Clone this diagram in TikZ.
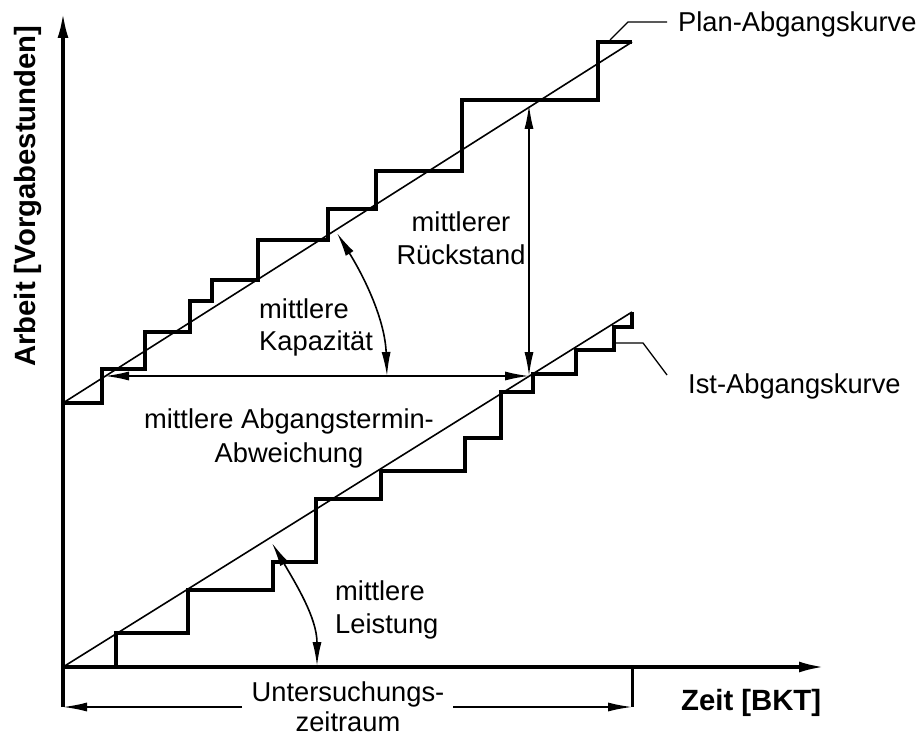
\documentclass[tikz,border=0pt]{standalone}
\usepackage{fontspec}
\setmainfont{Liberation Sans}
\usetikzlibrary{arrows.meta}
\begin{document}
\begin{tikzpicture}[x=1pt,y=-1pt,
  axis/.style={line width=3.2pt,-{Latex[length=25pt,width=11pt]}},
  stairs/.style={line width=3.6pt,line join=miter},
  trend/.style={line width=1.6pt},
  leader/.style={line width=1.3pt},
  tick/.style={line width=3pt},
  dimarrow/.style={line width=1.6pt,{Latex[length=24pt,width=9pt]}-{Latex[length=24pt,width=9pt]}},
  onearrow/.style={line width=1.6pt,-{Latex[length=24pt,width=9pt]}},
  lbl/.style={font=\fontsize{27.3}{32}\selectfont,inner sep=0pt},
  axlbl/.style={font=\bfseries\fontsize{29.3}{34}\selectfont,inner sep=0pt}]
\useasboundingbox (0,0) rectangle (920,735);

% axes
\coordinate (O) at (63,667);
\coordinate (Ybot) at (63,707);
\coordinate (Ytip) at (63,13);
\coordinate (Xtip) at (824,667);
\draw[axis] (Ybot) -- (Ytip);
\draw[axis] (O) -- (Xtip);

% planned output: trend line and staircase
\coordinate (P0) at (63,403);
\coordinate (P1) at (632,42);
\draw[trend] (P0) -- (P1);
\draw[stairs] (P0) -- (102,403) -- (102,369) -- (145,369) -- (145,332)
  -- (190,332) -- (190,301) -- (212,301) -- (212,280) -- (258,280)
  -- (258,240) -- (328,240) -- (328,209) -- (376,209) -- (376,171)
  -- (462,171) -- (462,100) -- (598,100) -- (598,42) -- (P1);

% actual output: trend line and staircase
\coordinate (I1) at (632,312);
\draw[trend] (O) -- (I1);
\draw[stairs] (O) -- (116,667) -- (116,633) -- (188,633) -- (188,590)
  -- (273,590) -- (273,562) -- (316,562) -- (316,499) -- (381,499)
  -- (381,471) -- (465,471) -- (465,438) -- (501,438) -- (501,392)
  -- (533,392) -- (533,374) -- (576,374) -- (576,350) -- (614,350)
  -- (614,327) -- (632,327) -- (I1);

% curve labels with leaders
\node[lbl,anchor=base west] (plan) at (678,32) {Plan-Abgangskurve};
\coordinate (planA) at (610,40);
\coordinate (planB) at (628,22);
\coordinate (planC) at (667,22);
\draw[leader] (planA) -- (planB) -- (planC);

\node[lbl,anchor=base west] (ist) at (688,393) {Ist-Abgangskurve};
\coordinate (istA) at (615,343);
\coordinate (istB) at (643,343);
\coordinate (istC) at (667,375);
\draw[leader] (istA) -- (istB) -- (istC);

% mean lateness (horizontal) and backlog (vertical)
\coordinate (abwL) at (105,376);
\coordinate (abwR) at (529,376);
\coordinate (rsT) at (529,105);
\draw[dimarrow] (abwL) -- (abwR);
\draw[dimarrow] (rsT) -- (abwR);

% mean capacity and mean output angles
\coordinate (kapA) at (337,233);
\coordinate (kapB) at (387,376);
\draw[dimarrow] (kapA) .. controls (366,280) and (385,321) .. (kapB);
\coordinate (leiA) at (272,543);
\coordinate (leiB) at (317,666);
\draw[dimarrow] (leiA) .. controls (296,584) and (317,618) .. (leiB);

% examined period
\coordinate (uzL) at (242,707);
\coordinate (uzR) at (453,707);
\coordinate (uzEnd) at (632,707);
\coordinate (uzTop) at (632,667);
\draw[tick] (uzTop) -- (uzEnd);
\draw[onearrow] (uzL) -- (Ybot);
\draw[onearrow] (uzR) -- (uzEnd);

% text labels
\node[lbl,anchor=base] (rs1) at (461,232) {mittlerer};
\node[lbl,anchor=base] (rs2) at (461,264) {Rückstand};
\node[lbl,anchor=base west] (kap1) at (259,318) {mittlere};
\node[lbl,anchor=base west] (kap2) at (259,350) {Kapazität};
\node[lbl,anchor=base] (abw1) at (289,428) {mittlere Abgangstermin-};
\node[lbl,anchor=base] (abw2) at (289,462) {Abweichung};
\node[lbl,anchor=base west] (lei1) at (335,600) {mittlere};
\node[lbl,anchor=base west] (lei2) at (335,633) {Leistung};
\node[lbl,anchor=base] (uz1) at (348,701) {Untersuchungs-};
\node[lbl,anchor=base] (uz2) at (348,731) {zeitraum};

% axis titles
\node[axlbl,anchor=base west] (xlab) at (681,710) {Zeit [BKT]};
\node[axlbl,anchor=base west,rotate=90] (ylab) at (35,367) {Arbeit [Vorgabestunden]};
\end{tikzpicture}
\end{document}
